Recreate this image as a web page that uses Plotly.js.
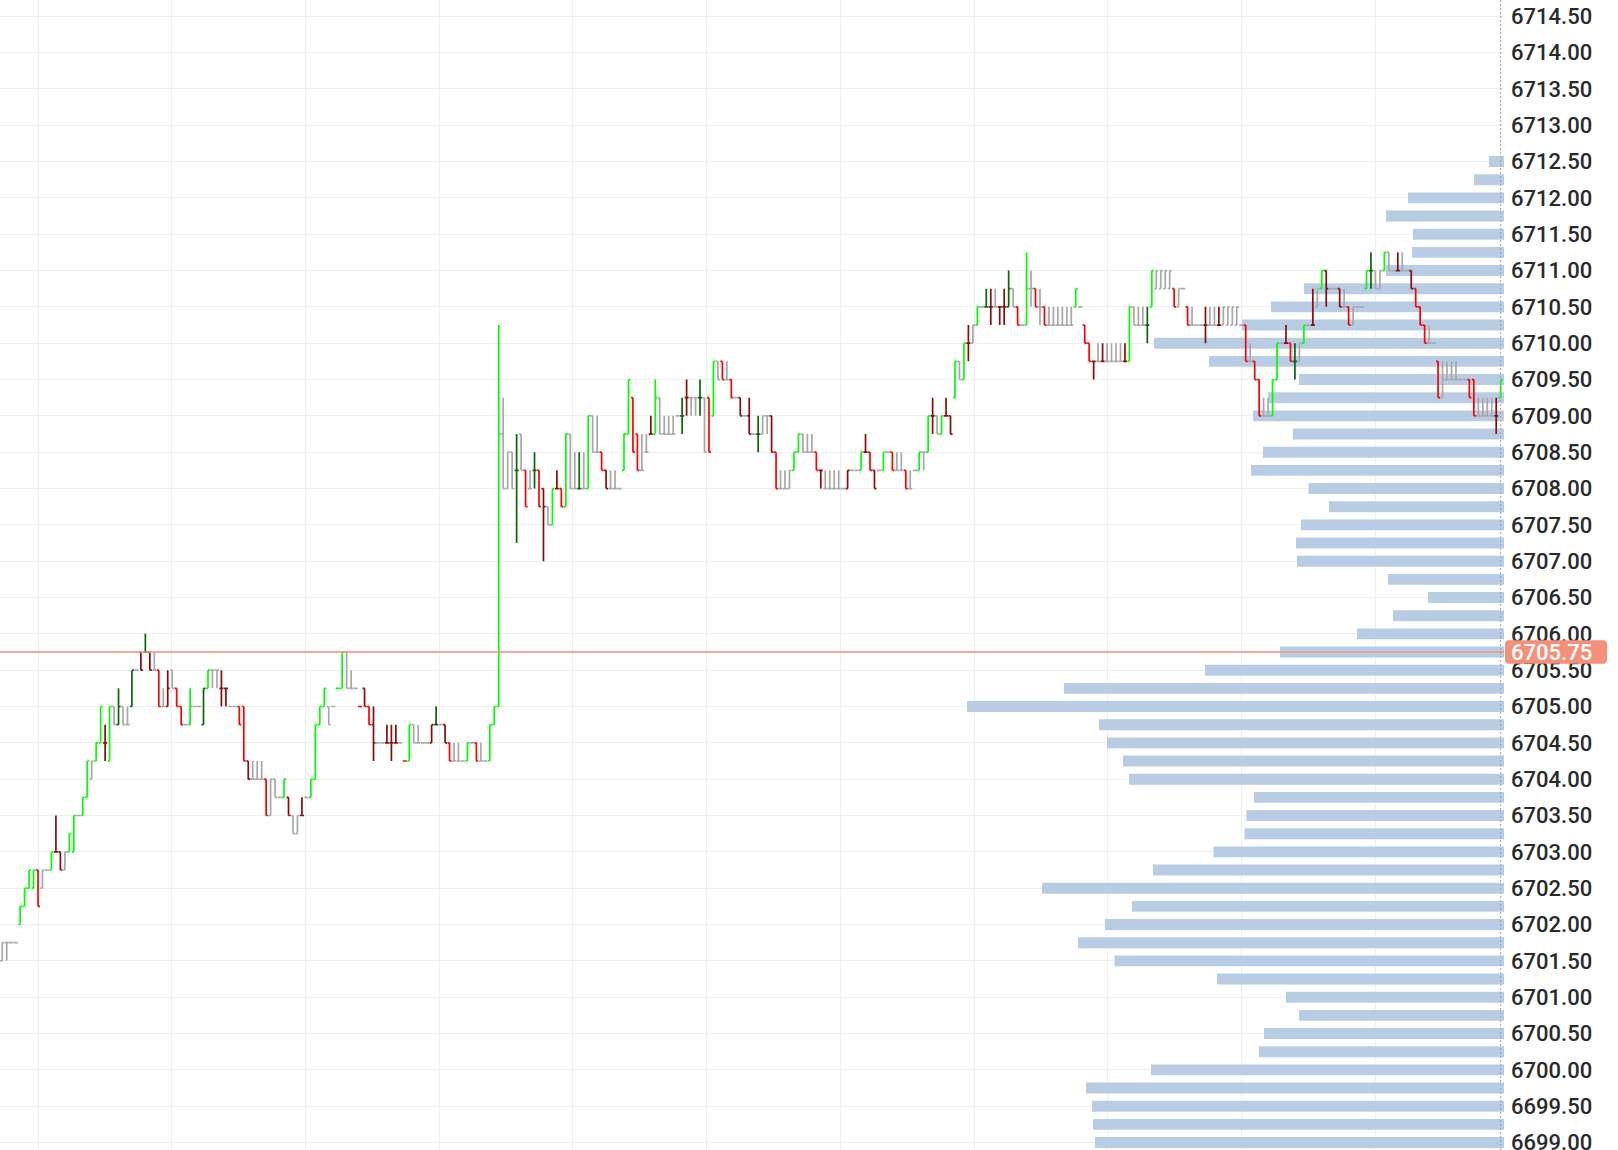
<!DOCTYPE html>
<html>
<head>
<meta charset="utf-8">
<script src="https://cdn.plot.ly/plotly-3.0.1.min.js"></script>
<style>
html,body{margin:0;padding:0;background:#ffffff;}
#chart{width:1618px;height:1150px;}
</style>
</head>
<body>
<div id="chart"></div>
<script>
// ---- price bars (one bar per period, oldest first) ----
const barOpen = [
6701.5,6701.75,6701.75,6701.75,6702,6702.25,6702.5,6702.5,6702.75,6702.5,
6702.75,6702.75,6703,6703,6702.75,6703,6703,6703.5,6703.5,6703.75,
6704,6704.25,6704.5,6704.5,6704.25,6705,6704.75,6705,6704.75,6705,
6705.5,6705.75,6705.75,6705.75,6705.5,6705.5,6705,6705,6705.5,6705.25,
6705,6704.75,6704.75,6705,6705,6704.75,6705.25,6705.5,6705.5,6705.25,
6705.25,6705,6705,6705,6705,6704.25,6704,6704,6704,6704,
6703.5,6704,6703.75,6703.75,6703.75,6703.5,6703.25,6703.5,6703.75,6703.75,
6704,6704.75,6705,6705,6705,6705.25,6705.25,6705.75,6705.25,6705.25,
6705,6705.25,6705,6704.75,6704.5,6704.5,6704.5,6704.5,6704.5,6704.5,
6704.25,6704.25,6704.75,6704.5,6704.5,6704.5,6704.5,6704.75,6704.75,6704.75,
6704.5,6704.25,6704.25,6704.25,6704.25,6704.5,6704.5,6704.25,6704.25,6704.25,
6704.75,6705,6708.75,6708,6708.5,6708.25,6708.75,6708.25,6708,6708.25,
6708.25,6708,6707.75,6707.5,6708,6708,6707.75,6708.75,6708,6708,
6708,6708,6709,6708.5,6708.5,6708.25,6708,6708,6708,6708.25,
6708.75,6709.25,6708.75,6708.25,6708.5,6708.75,6708.75,6709.25,6708.75,6708.75,
6708.75,6709,6709,6709.25,6709.25,6709.25,6709.25,6709.25,6709.25,6709,
6709.75,6709.75,6709.5,6709.5,6709.25,6709.25,6709,6709,6708.75,6708.75,
6708.75,6709,6709,6708.5,6708,6708,6708,6708.25,6708.5,6708.75,
6708.5,6708.5,6708.5,6708.25,6708,6708,6708,6708,6708,6708,
6708.25,6708.25,6708.25,6708.5,6708.5,6708.25,6708.25,6708.25,6708.5,6708.5,
6708.25,6708.25,6708.25,6708,6708.25,6708.25,6708.5,6708.5,6709,6709,
6708.75,6709,6709,6709.25,6709.75,6709.5,6710,6710,6710.25,6710.5,
6710.5,6710.5,6710.5,6710.5,6710.5,6710.5,6710.75,6710.5,6710.25,6710.25,
6710.75,6710.75,6710.5,6710.5,6710.25,6710.25,6710.25,6710.25,6710.25,6710.25,
6710.5,6710.5,6710.25,6710,6709.75,6709.75,6709.75,6709.75,6709.75,6709.75,
6709.75,6709.75,6709.75,6710.5,6710.25,6710.25,6710.25,6710.5,6710.75,6710.75,
6710.75,6710.75,6710.75,6710.5,6710.75,6710.5,6710.25,6710.25,6710.25,6710.25,
6710.25,6710.25,6710.25,6710.25,6710.25,6710.25,6710.25,6710.25,6710.25,6709.75,
6709.75,6709.5,6709,6709,6709,6709.5,6710,6710,6710,6709.75,
6709.75,6710,6710.25,6710.25,6710.5,6710.75,6711,6710.75,6710.75,6710.75,
6710.5,6710.5,6710.25,6710.5,6710.5,6710.75,6711,6711,6710.75,6711,
6711.25,6711,6711,6711,6711,6711,6710.75,6710.5,6710.25,6710,
6710,6709.75,6709.25,6709.5,6709.5,6709.5,6709.5,6709.5,6709.5,6709.5,
6709,6709,6709,6709,6709,6709.25
];
const barHigh = [
6701.75,6701.75,6701.75,6701.75,6702.25,6702.5,6702.75,6702.75,6702.75,6702.75,
6702.75,6703,6703.5,6703,6703,6703.25,6703.5,6703.5,6703.75,6704.25,
6704.25,6704.5,6705,6704.75,6705,6705,6705.25,6705,6705,6705.5,
6705.5,6705.75,6706,6705.75,6705.75,6705.5,6705.25,6705.5,6705.5,6705.25,
6705,6704.75,6705.25,6705,6705,6705.25,6705.5,6705.5,6705.5,6705.5,
6705.25,6705,6705,6705,6705,6704.25,6704.25,6704.25,6704.25,6704,
6704,6704,6703.75,6704,6703.75,6703.5,6703.5,6703.75,6703.75,6704,
6704.75,6705,6705.25,6705,6705,6705.25,6705.75,6705.75,6705.5,6705.25,
6705,6705.25,6705,6705,6704.5,6704.5,6704.75,6704.75,6704.75,6704.5,
6704.25,6704.75,6704.75,6704.75,6704.5,6704.5,6704.75,6705,6704.75,6704.75,
6704.5,6704.5,6704.5,6704.25,6704.5,6704.5,6704.5,6704.5,6704.25,6704.75,
6705,6710.25,6709.25,6708.5,6708.5,6708.75,6708.75,6708.25,6708.25,6708.5,
6708.25,6708,6707.75,6708,6708.25,6708,6708.75,6708.75,6708.5,6708.5,
6708.5,6709,6709,6709,6708.5,6708.25,6708.25,6708.25,6708,6708.75,
6709.5,6709.25,6708.75,6708.75,6708.75,6709,6709.5,6709.25,6709,6709,
6709,6709,6709.25,6709.5,6709.25,6709.25,6709.5,6709.25,6709.25,6709.75,
6709.75,6709.75,6709.75,6709.5,6709.25,6709.25,6709,6709.25,6708.75,6709,
6709,6709,6709,6708.5,6708.25,6708.25,6708.25,6708.5,6708.75,6708.75,
6708.75,6708.75,6708.5,6708.25,6708.25,6708.25,6708.25,6708.25,6708,6708.25,
6708.25,6708.25,6708.5,6708.75,6708.5,6708.25,6708.25,6708.5,6708.5,6708.5,
6708.5,6708.5,6708.25,6708.25,6708.25,6708.5,6708.5,6709,6709.25,6709,
6709,6709.25,6709,6709.75,6709.75,6710,6710.25,6710.25,6710.5,6710.5,
6710.75,6710.75,6710.75,6710.5,6710.75,6711,6710.75,6710.5,6710.25,6711.25,
6711,6710.75,6710.75,6710.5,6710.5,6710.5,6710.5,6710.5,6710.5,6710.5,
6710.75,6710.5,6710.25,6710,6709.75,6710,6710,6710,6710,6710,
6710,6710,6710.5,6710.5,6710.5,6710.5,6710.5,6711,6711,6711,
6711,6711,6710.75,6710.75,6710.75,6710.5,6710.5,6710.25,6710.25,6710.5,
6710.5,6710.5,6710.5,6710.5,6710.5,6710.5,6710.5,6710.25,6710.25,6710,
6709.75,6709.5,6709.25,6709.25,6709.5,6710,6710,6710.25,6710,6710,
6710,6710.25,6710.25,6710.75,6710.75,6711,6711,6710.75,6710.75,6710.75,
6710.75,6710.5,6710.5,6710.5,6710.5,6711,6711.25,6711,6711,6711.25,
6711.25,6711,6711.25,6711.25,6711,6711,6710.75,6710.5,6710.25,6710.25,
6710,6709.75,6709.75,6709.75,6709.75,6709.75,6709.5,6709.5,6709.5,6709.5,
6709.25,6709.25,6709.25,6709.25,6709.25,6709.5
];
const barLow = [
6701.5,6701.5,6701.75,6701.75,6702,6702.25,6702.5,6702.5,6702.25,6702.5,
6702.75,6702.75,6703,6702.75,6702.75,6703,6703,6703.5,6703.5,6703.75,
6704,6704.25,6704.5,6704.25,6704.25,6704.75,6704.75,6704.75,6704.75,6705,
6705.5,6705.5,6705.75,6705.5,6705.5,6705,6705,6705,6705.25,6705,
6704.75,6704.75,6704.75,6705,6705,6704.75,6705.25,6705.25,6705.25,6705,
6705,6705,6705,6704.75,6704.25,6704,6704,6704,6704,6703.5,
6703.5,6703.75,6703.75,6703.75,6703.5,6703.25,6703.25,6703.5,6703.75,6703.75,
6704,6704.75,6705,6704.75,6705,6705.25,6705.25,6705.25,6705.25,6705.25,
6705,6705,6704.75,6704.25,6704.5,6704.5,6704.5,6704.25,6704.5,6704.5,
6704.25,6704.25,6704.5,6704.5,6704.5,6704.5,6704.5,6704.75,6704.75,6704.5,
6704.25,6704.25,6704.25,6704.25,6704.25,6704.5,6704.25,6704.25,6704.25,6704.25,
6704.75,6705,6708,6708,6708,6707.25,6708.25,6707.75,6708,6708,
6707.75,6707,6707.5,6707.5,6708,6707.75,6707.75,6708,6708,6708,
6708,6708,6708.5,6708.5,6708.25,6708,6708,6708,6708,6708.25,
6708.75,6708.5,6708.25,6708.25,6708.5,6708.75,6708.75,6708.75,6708.75,6708.75,
6708.75,6709,6708.75,6709,6709,6709,6709,6708.5,6708.5,6709,
6709.5,6709.5,6709.5,6709.25,6709.25,6709,6709,6708.75,6708.75,6708.5,
6708.75,6708.75,6708.5,6708,6708,6708,6708,6708.25,6708.5,6708.5,
6708.5,6708.5,6708.25,6708,6708,6708,6708,6708,6708,6708,
6708.25,6708.25,6708.25,6708.5,6708.25,6708,6708.25,6708.25,6708.5,6708.25,
6708.25,6708.25,6708,6708,6708.25,6708.25,6708.25,6708.5,6708.75,6708.75,
6708.75,6709,6708.75,6709.25,6709.5,6709.5,6709.75,6710,6710.25,6710.5,
6710.5,6710.25,6710.5,6710.25,6710.25,6710.5,6710.5,6710.25,6710.25,6710.25,
6710.5,6710.5,6710.25,6710.25,6710.25,6710.25,6710.25,6710.25,6710.25,6710.25,
6710.5,6710.5,6710,6709.75,6709.5,6709.75,6709.75,6709.75,6709.75,6709.75,
6709.75,6709.75,6709.75,6710.25,6710.25,6710.25,6710,6710.5,6710.75,6710.75,
6710.75,6710.75,6710.5,6710.5,6710.75,6710.25,6710.25,6710.25,6710.25,6710,
6710.25,6710.25,6710.25,6710.25,6710.25,6710.25,6710.25,6710.25,6709.75,6709.75,
6709.5,6709,6709,6709,6709,6709.5,6710,6710,6709.75,6709.5,
6709.75,6710,6710.25,6710.25,6710.5,6710.75,6710.5,6710.75,6710.75,6710.5,
6710.5,6710.25,6710.25,6710.5,6710.5,6710.75,6710.75,6710.75,6710.75,6711,
6711,6711,6711,6711,6711,6710.75,6710.5,6710.25,6710,6710,
6710,6709.25,6709.25,6709.5,6709.5,6709.5,6709.5,6709.5,6709.25,6709,
6709,6709,6709,6709,6708.75,6709.25
];
const barClose = [
6701.75,6701.75,6701.75,6701.75,6702.25,6702.5,6702.75,6702.75,6702.25,6702.75,
6702.75,6703,6703,6702.75,6703,6703.25,6703.5,6703.5,6703.75,6704.25,
6704.25,6704.5,6705,6704.5,6705,6704.75,6705,6704.75,6704.75,6705.5,
6705.5,6705.5,6705.75,6705.5,6705.5,6705,6705,6705.25,6705.25,6705,
6704.75,6704.75,6705,6705,6705,6705.25,6705.5,6705.5,6705.5,6705.25,
6705.25,6705,6705,6704.75,6704.25,6704,6704,6704,6704,6703.5,
6704,6703.75,6703.75,6704,6703.5,6703.25,6703.5,6703.5,6703.75,6704,
6704.75,6705,6705.25,6704.75,6705,6705.25,6705.75,6705.25,6705.25,6705.25,
6705,6705,6704.75,6704.5,6704.5,6704.5,6704.5,6704.5,6704.5,6704.5,
6704.25,6704.75,6704.5,6704.5,6704.5,6704.5,6704.75,6704.75,6704.75,6704.5,
6704.25,6704.25,6704.25,6704.25,6704.5,6704.5,6704.25,6704.25,6704.25,6704.75,
6705,6708.75,6708,6708.5,6708,6708.25,6708.25,6707.75,6708,6708.25,
6707.75,6707.75,6707.5,6708,6708,6707.75,6708.75,6708,6708,6708,
6708,6709,6708.5,6708.5,6708.25,6708,6708,6708,6708,6708.75,
6709.5,6708.5,6708.25,6708.25,6708.5,6708.75,6709.25,6708.75,6708.75,6708.75,
6708.75,6709,6709,6709.25,6709.25,6709.25,6709.25,6708.5,6708.5,6709.75,
6709.5,6709.5,6709.5,6709.25,6709.25,6709,6709,6708.75,6708.75,6708.75,
6709,6709,6708.5,6708,6708,6708,6708.25,6708.5,6708.75,6708.5,
6708.5,6708.5,6708.25,6708.25,6708,6708,6708,6708,6708,6708.25,
6708.25,6708.25,6708.5,6708.5,6708.25,6708,6708.25,6708.5,6708.5,6708.25,
6708.25,6708.25,6708,6708,6708.25,6708.5,6708.5,6709,6709,6708.75,
6709,6709,6708.75,6709.75,6709.5,6710,6710,6710.25,6710.5,6710.5,
6710.5,6710.5,6710.5,6710.5,6710.5,6710.75,6710.5,6710.25,6710.25,6710.75,
6710.75,6710.5,6710.5,6710.25,6710.25,6710.25,6710.25,6710.25,6710.25,6710.25,
6710.75,6710.5,6710,6709.75,6709.75,6709.75,6709.75,6709.75,6709.75,6709.75,
6709.75,6709.75,6710.5,6710.25,6710.25,6710.25,6710.25,6711,6711,6711,
6711,6711,6710.5,6710.75,6710.75,6710.25,6710.25,6710.25,6710.25,6710.25,
6710.25,6710.25,6710.25,6710.5,6710.5,6710.5,6710.5,6710.25,6709.75,6709.75,
6709.5,6709,6709,6709,6709.5,6710,6710,6710,6709.75,6709.75,
6710,6710.25,6710.25,6710.25,6710.75,6711,6710.75,6710.75,6710.75,6710.5,
6710.5,6710.25,6710.5,6710.5,6710.5,6711,6711,6710.75,6711,6711.25,
6711,6711,6711,6711,6711,6710.75,6710.5,6710.25,6710,6710,
6710,6709.25,6709.5,6709.5,6709.5,6709.5,6709.5,6709.5,6709.25,6709,
6709,6709,6709,6709,6709,6709.5
];
// bar colour class: G bright up, R bright down, g dark green, r dark red, n neutral grey
const barTone = (
"nnnnGGGGRn" + "nGrrnGGnGG" + "nGGrGngnng" + "nrgrnRnrnR" + "RnGnngGnnr" +
"rnnRRrnnnR" + "nnnGrnnrnG" + "GGGnnGGnnn" + "RrRrnnrrrn" + "RGnnnnrgnr" +
"RnnnGnRnnG" + "GGnnngnRng" + "RrnGrRGnng" + "nGnnRrnnnG" + "GRRnnrGnnn" +
"nngrnngnRG" + "nRnRnrnrng" + "nnrRnnnGGn" + "nnRrnnnnnr" + "nnGrRrnGnR" +
"nnRnnGnGrn" + "GrrGnGrnGn" + "grnrrgnRnG" + "nRnRnnnnnn" + "GnRRrnrnnn" +
"nrGnnngGnn" + "nnRnnRnnnr" + "nnrnnnnnRn" + "RRnnGGnrRg" + "nGnrnGrnnr" +
"nRnnnGgnnG" + "nnrnnrRRRn" + "nRnnnnnnRR" + "nnnnrG"
).split("");

// ---- volume profile (price level -> traded volume) ----
const profilePrice = [
6712.5,6712.25,6712,6711.75,6711.5,6711.25,6711,6710.75,6710.5,6710.25,
6710,6709.75,6709.5,6709.25,6709,6708.75,6708.5,6708.25,6708,6707.75,
6707.5,6707.25,6707,6706.75,6706.5,6706.25,6706,6705.75,6705.5,6705.25,
6705,6704.75,6704.5,6704.25,6704,6703.75,6703.5,6703.25,6703,6702.75,
6702.5,6702.25,6702,6701.75,6701.5,6701.25,6701,6700.75,6700.5,6700.25,
6700,6699.75,6699.5,6699.25,6699
];
const profileVolume = [
30,60,192,236,182,184,236,400,466,524,
700,590,410,472,502,422,482,506,391,350,
406,416,414,232,152,222,294,448,598,880,
1074,810,794,762,750,500,515,519,581,702,
924,744,798,852,779,574,436,410,480,490,
706,836,824,822,818
];
const lastPrice = 6705.75;

// ---- build figure ----
const toneColor = {G:"#00ff00", R:"#ff0000", g:"#0a640a", r:"#8b0b0b", n:"#a8a8a8"};
const barIndex = barOpen.map((_, i) => i);
const lastIndex = barIndex.length - 1;

const traces = [{
  type: "bar", orientation: "h",
  x: profileVolume, y: profilePrice,
  xaxis: "x", yaxis: "y",
  width: 0.15,
  marker: {color: "#b8cce4", line: {width: 0}},
  hoverinfo: "skip", showlegend: false
}];
["n", "r", "g", "R", "G"].forEach(code => {
  const idx = barIndex.filter(i => barTone[i] === code);
  const c = toneColor[code];
  traces.push({
    type: "ohlc", xaxis: "x2", yaxis: "y",
    x: idx,
    open: idx.map(i => barOpen[i]),
    high: idx.map(i => barHigh[i]),
    low: idx.map(i => barLow[i]),
    close: idx.map(i => barClose[i]),
    tickwidth: 0.45,
    line: {width: 1.7},
    increasing: {line: {color: c, width: 1.7}},
    decreasing: {line: {color: c, width: 1.7}},
    hoverinfo: "skip", showlegend: false
  });
});

const plotW = 1504, pxPerUnit = 72.67;
const bx0 = 1505 / plotW, bx1 = 1607 / plotW, rx = 4 / plotW;
const hh = 11.7 / pxPerUnit, ry = 4 / pxPerUnit;
const yT = lastPrice + hh, yB = lastPrice - hh;
const boxPath =
  `M ${bx0 + rx},${yT} L ${bx1 - rx},${yT} Q ${bx1},${yT} ${bx1},${yT - ry} ` +
  `L ${bx1},${yB + ry} Q ${bx1},${yB} ${bx1 - rx},${yB} ` +
  `L ${bx0 + rx},${yB} Q ${bx0},${yB} ${bx0},${yB + ry} ` +
  `L ${bx0},${yT - ry} Q ${bx0},${yT} ${bx0 + rx},${yT} Z`;

const layout = {
  width: 1618, height: 1150,
  margin: {l: 0, r: 1618 - plotW, t: 0, b: 0, pad: 0},
  paper_bgcolor: "#ffffff", plot_bgcolor: "#ffffff",
  showlegend: false, dragmode: false,
  xaxis: {
    range: [plotW * 2, 0], showgrid: false, zeroline: false,
    showticklabels: false, ticks: "", showline: false,
    rangeslider: {visible: false}, fixedrange: true
  },
  xaxis2: {
    overlaying: "x", anchor: "y", range: [-0.5, 335.74],
    showgrid: true, gridcolor: "#eeeeee", gridwidth: 1,
    tick0: 8, dtick: 29.9, showticklabels: false, ticks: "",
    zeroline: false, showline: false,
    rangeslider: {visible: false}, fixedrange: true
  },
  yaxis: {
    side: "right", range: [6698.897, 6714.723],
    tick0: 6699, dtick: 0.5, tickformat: ".2f",
    showgrid: true, gridcolor: "#eeeeee", gridwidth: 1,
    zeroline: false, showline: false, ticks: "",
    ticklabelstandoff: 6, ticklabeloverflow: "allow",
    tickfont: {family: "Roboto, sans-serif", size: 22, color: "#2a2a2a", weight: 500},
    fixedrange: true
  },
  shapes: [
    {type: "line", xref: "x2", yref: "paper", x0: lastIndex, x1: lastIndex, y0: 0, y1: 1,
     line: {color: "#a0a0a0", width: 1, dash: "2px,2px"}, layer: "above"},
    {type: "line", xref: "paper", yref: "y", x0: 0, x1: 1, y0: lastPrice, y1: lastPrice,
     line: {color: "#f4907a", width: 1.5}, layer: "above"},
    {type: "path", xref: "paper", yref: "y", path: boxPath,
     fillcolor: "#f4907a", line: {width: 0}, layer: "above"}
  ],
  annotations: [{
    xref: "paper", yref: "y", x: 1509 / plotW, y: lastPrice,
    xanchor: "left", yanchor: "middle", showarrow: false,
    text: lastPrice.toFixed(2),
    font: {family: "Roboto, sans-serif", size: 22, color: "#ffffff", weight: 500}
  }]
};

Plotly.newPlot("chart", traces, layout, {displayModeBar: false, staticPlot: true});
</script>
</body>
</html>
